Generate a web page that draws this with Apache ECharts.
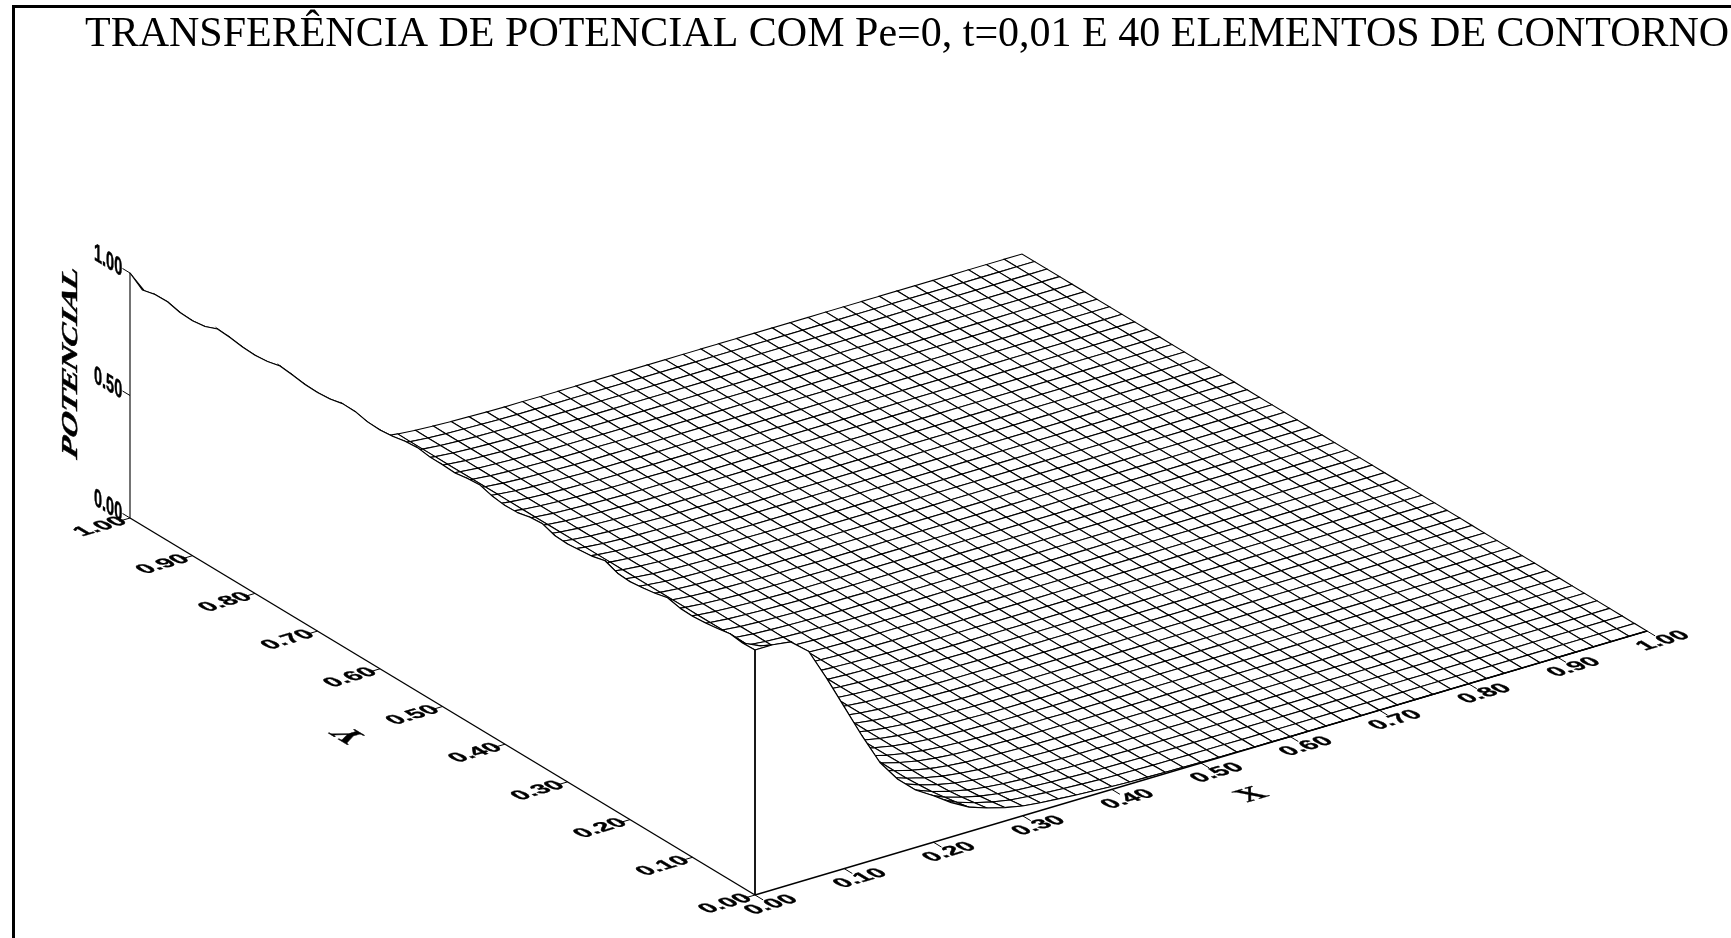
<!DOCTYPE html>
<html>
<head>
<meta charset="utf-8">
<title>Transferencia de potencial</title>
<script src="https://cdn.jsdelivr.net/npm/echarts@6/dist/echarts.min.js"></script>
<style>
  html, body { margin: 0; padding: 0; background: #fff; }
  #chart { width: 1731px; height: 938px; }
</style>
</head>
<body>
<div id="chart"></div>
<script>
// potencial ao longo de X (passo 0,02) no interior do dominio
const potentialInterior = [
  1.0, 0.888, 0.777, 0.671, 0.572, 0.47, 0.38, 0.3, 0.23, 0.17,
  0.12, 0.09, 0.065, 0.045, 0.03, 0.02, 0.013, 0.009, 0.006, 0.004,
  0.002, 0.001, 0.001, 0, 0, 0, 0, 0, 0, 0,
  0, 0, 0, 0, 0, 0, 0, 0, 0, 0,
  0, 0, 0, 0, 0, 0, 0, 0, 0, 0, 0
];
const potentialFront = [
  1.0, 1.0, 0.99, 0.93, 0.8, 0.66, 0.52, 0.39, 0.3, 0.235,
  0.19, 0.14, 0.1, 0.075, 0.055, 0.04, 0.032, 0.026, 0.02, 0.016,
  0.012, 0.009, 0.007, 0.005, 0.004, 0.003, 0.002, 0.002, 0.001, 0.001,
  0, 0, 0, 0, 0, 0, 0, 0, 0, 0,
  0, 0, 0, 0, 0, 0, 0, 0, 0, 0, 0
];
// peso da borda da frente nas primeiras linhas em y
const frontWeight = [1, 0.7, 0.4, 0.2, 0.1];
// crista em x=0 ao longo de Y (passo 0,02), com as ondulacoes dos elementos de contorno
const crestAlongY = [
  1.0, 0.998, 1.005, 0.995, 0.988, 0.984, 0.986, 0.998, 0.985, 0.977,
  0.971, 0.975, 0.995, 0.982, 0.976, 0.971, 0.974, 0.992, 0.988, 0.976,
  0.974, 0.981, 0.996, 0.992, 0.984, 0.987, 0.987, 0.995, 0.99, 0.98,
  0.975, 0.977, 0.989, 0.99, 0.978, 0.974, 0.976, 0.984, 0.99, 0.977,
  0.972, 0.975, 0.983, 0.987, 0.966, 0.959, 0.962, 0.975, 0.974, 0.961, 1.0
];
const xTicks = [0, 0.1, 0.2, 0.3, 0.4, 0.5, 0.6, 0.7, 0.8, 0.9, 1];
const yTicks = [0, 0.1, 0.2, 0.3, 0.4, 0.5, 0.6, 0.7, 0.8, 0.9, 1];
const zTicks = [0, 0.5, 1];
const titleText = 'TRANSFERÊNCIA DE POTENCIAL COM Pe=0, t=0,01 E 40 ELEMENTOS DE CONTORNO';

// projecao paralela do Surfer
function project(x, y, z) {
  return [755 + 892 * x - 625 * y, 895 - 264 * x - 377 * y - 245 * z];
}
const nX = potentialInterior.length;
const nY = crestAlongY.length;
const stepX = 1 / (nX - 1);
const stepY = 1 / (nY - 1);
function potentialAt(i, j) {
  const w = frontWeight[j] || 0;
  return crestAlongY[j] * (potentialInterior[i] * (1 - w) + potentialFront[i] * w);
}
function surfacePoint(i, j) {
  return project(i * stepX, j * stepY, potentialAt(i, j));
}

// celulas de tras para frente
const cellData = [];
for (let i = nX - 2; i >= 0; i--) {
  for (let j = nY - 2; j >= 0; j--) {
    cellData.push([i, j]);
  }
}

function renderCell(params, api) {
  const i = api.value(0), j = api.value(1);
  const pts = [surfacePoint(i, j), surfacePoint(i + 1, j), surfacePoint(i + 1, j + 1), surfacePoint(i, j + 1)];
  return {
    type: 'polygon',
    shape: { points: pts.map(p => api.coord(p)) },
    style: { fill: '#fff', stroke: '#000', lineWidth: 1.1 }
  };
}

// paredes brancas que escondem a parte de baixo da superficie
const crestLine = crestAlongY.map((c, j) => surfacePoint(0, j));
const frontLine = potentialFront.map((p, i) => surfacePoint(i, 0));
const wallX0 = crestLine.concat([project(0, 1, 0), project(0, 0, 0)]);
const wallY0 = frontLine.concat([project(1, 0, 0), project(0, 0, 0)]);

function renderWall(points) {
  return function (params, api) {
    return {
      type: 'polygon',
      shape: { points: points.map(p => api.coord(p)) },
      style: { fill: '#fff', stroke: null }
    };
  };
}

function lineSeries(points, width) {
  return {
    type: 'line', data: points, symbol: 'none', silent: true, animation: false,
    lineStyle: { color: '#000', width: width }, z: 5
  };
}

// texto deitado num plano: right/down sao os vetores da letra na tela por em
function flatText(api, item) {
  const pos = api.coord(item.at);
  const F = item.font;
  const a = item.right[0] / F, b = item.right[1] / F, c = item.down[0] / F, d = item.down[1] / F;
  const E = (a + d) / 2, G0 = (a - d) / 2, G = (b + c) / 2, H = (b - c) / 2;
  const Q = Math.hypot(E, H), R = Math.hypot(G0, G);
  const a1 = Math.atan2(G, G0), a2 = Math.atan2(H, E);
  return {
    type: 'group',
    x: pos[0], y: pos[1],
    rotation: -(a2 + a1) / 2,
    scaleX: Q + R, scaleY: Q - R,
    children: [{
      type: 'text',
      rotation: -(a2 - a1) / 2,
      style: {
        text: item.text, fontSize: F, fontFamily: item.family, fontWeight: 'bold',
        fill: '#000', stroke: '#000', lineWidth: 0.4, align: 'center', verticalAlign: 'middle'
      }
    }]
  };
}

const dirX = [0.959, -0.284], dirYup = [-0.856, -0.516];
const scale = (v, k) => [v[0] * k, v[1] * k];
const sans = '"Liberation Sans", Arial, sans-serif', serif = '"Liberation Serif", "Times New Roman", serif';
const groundLabel = { right: scale(dirX, 25), down: scale(dirYup, -21), family: sans, font: 20 };
const wallLabel = { right: [14.5, 8.8], down: [0, 25], family: sans, font: 20 };

const labels = [];
xTicks.forEach(v => labels.push(Object.assign({}, groundLabel, { text: v.toFixed(2), at: project(v, -0.026, 0) })));
yTicks.forEach(v => labels.push(Object.assign({}, groundLabel, { text: v.toFixed(2), at: project(-0.033, v, 0) })));
zTicks.forEach(v => labels.push(Object.assign({}, wallLabel, { text: v.toFixed(2), at: project(0, 1.035, v - 0.006) })));
labels.push({ text: 'X', at: [1252, 795], right: scale(dirX, 33.5), down: scale(dirYup, -30), family: serif, font: 30 });
labels.push({ text: 'Y', at: [351, 735], right: [-28, -17], down: [34, -10], family: serif, font: 30 });
labels.push({ text: 'POTENCIAL', at: [71, 362], right: [0, -32], down: [22.7, 13.7], family: serif, font: 20 });

const series = [
  {
    type: 'custom', data: cellData, renderItem: renderCell, silent: true, animation: false,
    progressive: 0, z: 1, encode: { x: -1, y: -1 }
  },
  { type: 'custom', data: [[0, 0]], renderItem: renderWall(wallX0), silent: true, animation: false, z: 2 },
  { type: 'custom', data: [[0, 0]], renderItem: renderWall(wallY0), silent: true, animation: false, z: 2 },
  lineSeries(crestLine, 1.1),
  lineSeries(frontLine, 1.1),
  lineSeries([project(0, 0, 0), project(1, 0, 0)], 1.4),
  lineSeries([project(0, 0, 0), project(0, 1, 0)], 1.4),
  lineSeries([project(0, 1, 0), project(0, 1, 1)], 1.1),
  lineSeries([project(0, 0, 0), surfacePoint(0, 0)], 1.8)
];
xTicks.forEach(v => series.push(lineSeries([project(v, 0, 0), project(v, -0.013, 0)], 1)));
yTicks.forEach(v => series.push(lineSeries([project(0, v, 0), project(-0.012, v, 0)], 1)));
zTicks.forEach(v => series.push(lineSeries([project(0, 1, v), project(0, 1.012, v)], 1)));
series.push({
  type: 'custom', data: labels.map((l, k) => [k]), silent: true, animation: false, z: 6,
  renderItem: (params, api) => flatText(api, labels[api.value(0)])
});

const chart = echarts.init(document.getElementById('chart'));
chart.setOption({
  animation: false,
  backgroundColor: '#fff',
  title: {
    text: titleText, left: 85, top: 14, padding: 0,
    textStyle: { fontFamily: serif, fontSize: 42, fontWeight: 'normal', color: '#000' }
  },
  grid: { left: 0, right: 0, top: 0, bottom: 0 },
  xAxis: { type: 'value', min: 0, max: 1731, show: false },
  yAxis: { type: 'value', min: 0, max: 938, inverse: true, show: false },
  graphic: [
    { type: 'rect', shape: { x: 12, y: 5, width: 3, height: 933 }, style: { fill: '#000' } },
    { type: 'rect', shape: { x: 12, y: 5, width: 1719, height: 3 }, style: { fill: '#000' } }
  ],
  series: series
});
</script>
</body>
</html>
